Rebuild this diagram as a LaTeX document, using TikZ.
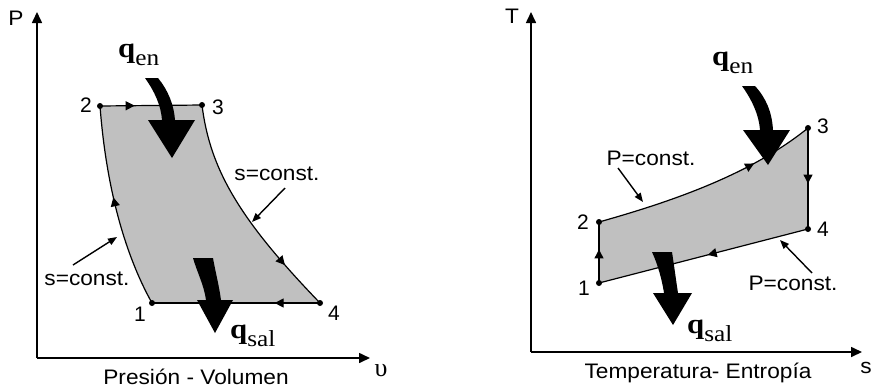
\documentclass[tikz,border=0pt]{standalone}
\usepackage{fontspec}
\setmainfont{Liberation Sans}
\newfontfamily\qfont{Liberation Serif}
\usetikzlibrary{arrows.meta,decorations.markings}
\newcommand\qlab[1]{{\qfont\bfseries\fontsize{28}{28}\selectfont q}\raisebox{-8pt}{\qfont\fontsize{23}{23}\selectfont #1}}
\definecolor{cycfill}{RGB}{192,192,192}
\tikzset{
  lab/.style={font=\fontsize{21}{21}\selectfont, xscale=1.08, inner sep=0pt},
  num/.style={font=\fontsize{21}{21}\selectfont, inner sep=0pt},
  qtext/.style={inner sep=0pt, anchor=base west, xscale=1.1},
  axis/.style={line width=1.6pt, -{Triangle[length=11pt,width=10pt]}},
  cyc/.style={line width=1.2pt},
  pt/.style={circle, fill=black, inner sep=0pt, minimum size=6pt},
  callout/.style={line width=1.4pt, -{Triangle[length=9pt,width=7pt]}},
  heat/.style={fill=black},
  mk/.style={postaction={decorate}, decoration={markings, mark=at position #1 with {\arrow{Triangle[length=9pt,width=9pt]}}}},
}
\begin{document}
\begin{tikzpicture}[x=1pt,y=-1pt]
\useasboundingbox (0,0) rectangle (874,389);
% ---------------- Left: P-v ----------------
\coordinate (LO) at (37,358);
\coordinate (LPt) at (37,12);
\coordinate (LVt) at (370,358);
\draw[axis] (LO) -- (LPt);
\draw[axis] (LO) -- (LVt);
\node[lab] (LPlab) at (16,18) {P};
\node[inner sep=0pt, font=\qfont\fontsize{26}{26}\selectfont] (LVlab) at (381,370) {υ};
\node[lab, anchor=base] (LTitle) at (196,384) {Presión - Volumen};

\coordinate (L1) at (152,303);
\coordinate (L2) at (100,106);
\coordinate (L3) at (202,105);
\coordinate (L4) at (320,303);

\fill[cycfill] (L1) .. controls (129,262) and (107,198) .. (L2) -- (L3)
  .. controls (210,170) and (240,220) .. (L4) -- cycle;

\draw[cyc, mk=0.55] (L1) .. controls (129,262) and (107,198) .. (L2);
\draw[cyc, mk=0.34] (L2) -- (L3);
\draw[cyc, mk=0.78] (L3) .. controls (210,170) and (240,220) .. (L4);
\draw[cyc, mk=0.27] (L4) -- (L1);

\node[pt] (L1d) at (L1) {};
\node[pt] (L2d) at (L2) {};
\node[pt] (L3d) at (L3) {};
\node[pt] (L4d) at (L4) {};
\node[num] (L1lab) at (140,314) {1};
\node[num] (L2lab) at (86,105) {2};
\node[num] (L3lab) at (218,107) {3};
\node[num] (L4lab) at (334,313) {4};

\node[lab, anchor=base] (Ls1) at (277,180) {s=const.};
\node[lab, anchor=base] (Ls2) at (87,285) {s=const.};
\coordinate (Ls1a) at (285,188);
\coordinate (Ls1b) at (252,222);
\coordinate (Ls2a) at (73,265);
\coordinate (Ls2b) at (117,237);
\draw[callout] (Ls1a) -- (Ls1b);
\draw[callout] (Ls2a) -- (Ls2b);

\fill[heat] (145,78) -- (158,78) .. controls (168,90) and (174,105) .. (175,120)
  -- (195,120) -- (172,158) -- (148,120) -- (162,120)
  .. controls (161,106) and (155,92) .. cycle;
\fill[heat] (193,258) -- (213,258) .. controls (215,270) and (219,285) .. (221,300)
  -- (233,300) -- (215,333) -- (197,300) -- (206,300)
  .. controls (204,285) and (197,272) .. cycle;
\node[qtext] (Lqen) at (118,57) {\qlab{en}};
\node[qtext] (Lqsal) at (230,338) {\qlab{sal}};

% ---------------- Right: T-s ----------------
\coordinate (RO) at (531,352);
\coordinate (RTt) at (531,12);
\coordinate (RSt) at (862,352);
\draw[axis] (RO) -- (RTt);
\draw[axis] (RO) -- (RSt);
\node[lab] (RTlab) at (512,16) {T};
\node[lab] (RSlab) at (866,368) {s};
\node[lab, anchor=base] (RTitle) at (698,378) {Temperatura- Entropía};

\coordinate (R1) at (599,283);
\coordinate (R2) at (599,222);
\coordinate (R3) at (808,128);
\coordinate (R4) at (808,229);

\fill[cycfill] (R1) -- (R2) .. controls (670,202) and (750,175) .. (R3) -- (R4) -- cycle;
\draw[cyc, mk=0.55] (R1) -- (R2);
\draw[cyc, mk=0.72] (R2) .. controls (670,202) and (750,175) .. (R3);
\draw[cyc, mk=0.55] (R3) -- (R4);
\draw[cyc, mk=0.48] (R4) -- (R1);

\node[pt] (R1d) at (R1) {};
\node[pt] (R2d) at (R2) {};
\node[pt] (R3d) at (R3) {};
\node[pt] (R4d) at (R4) {};
\node[num] (R1lab) at (584,288) {1};
\node[num] (R2lab) at (583,222) {2};
\node[num] (R3lab) at (823,126) {3};
\node[num] (R4lab) at (823,229) {4};

\node[lab, anchor=base] (RP1) at (651,165) {P=const.};
\node[lab, anchor=base] (RP2) at (793,290) {P=const.};
\coordinate (RP1a) at (618,168);
\coordinate (RP1b) at (643,202);
\coordinate (RP2a) at (812,273);
\coordinate (RP2b) at (780,240);
\draw[callout] (RP1a) -- (RP1b);
\draw[callout] (RP2a) -- (RP2b);

\fill[heat] (742,86) -- (755,86) .. controls (766,98) and (772,112) .. (773,130)
  -- (790,130) -- (768,165) -- (743,130) -- (760,130)
  .. controls (759,115) and (752,100) .. cycle;
\fill[heat] (652,252) -- (672,252) .. controls (674,265) and (676,280) .. (678,293)
  -- (692,293) -- (673,325) -- (653,293) -- (664,293)
  .. controls (662,280) and (658,265) .. cycle;
\node[qtext] (Rqen) at (712,65) {\qlab{en}};
\node[qtext] (Rqsal) at (687,333) {\qlab{sal}};
\end{tikzpicture}
\end{document}
